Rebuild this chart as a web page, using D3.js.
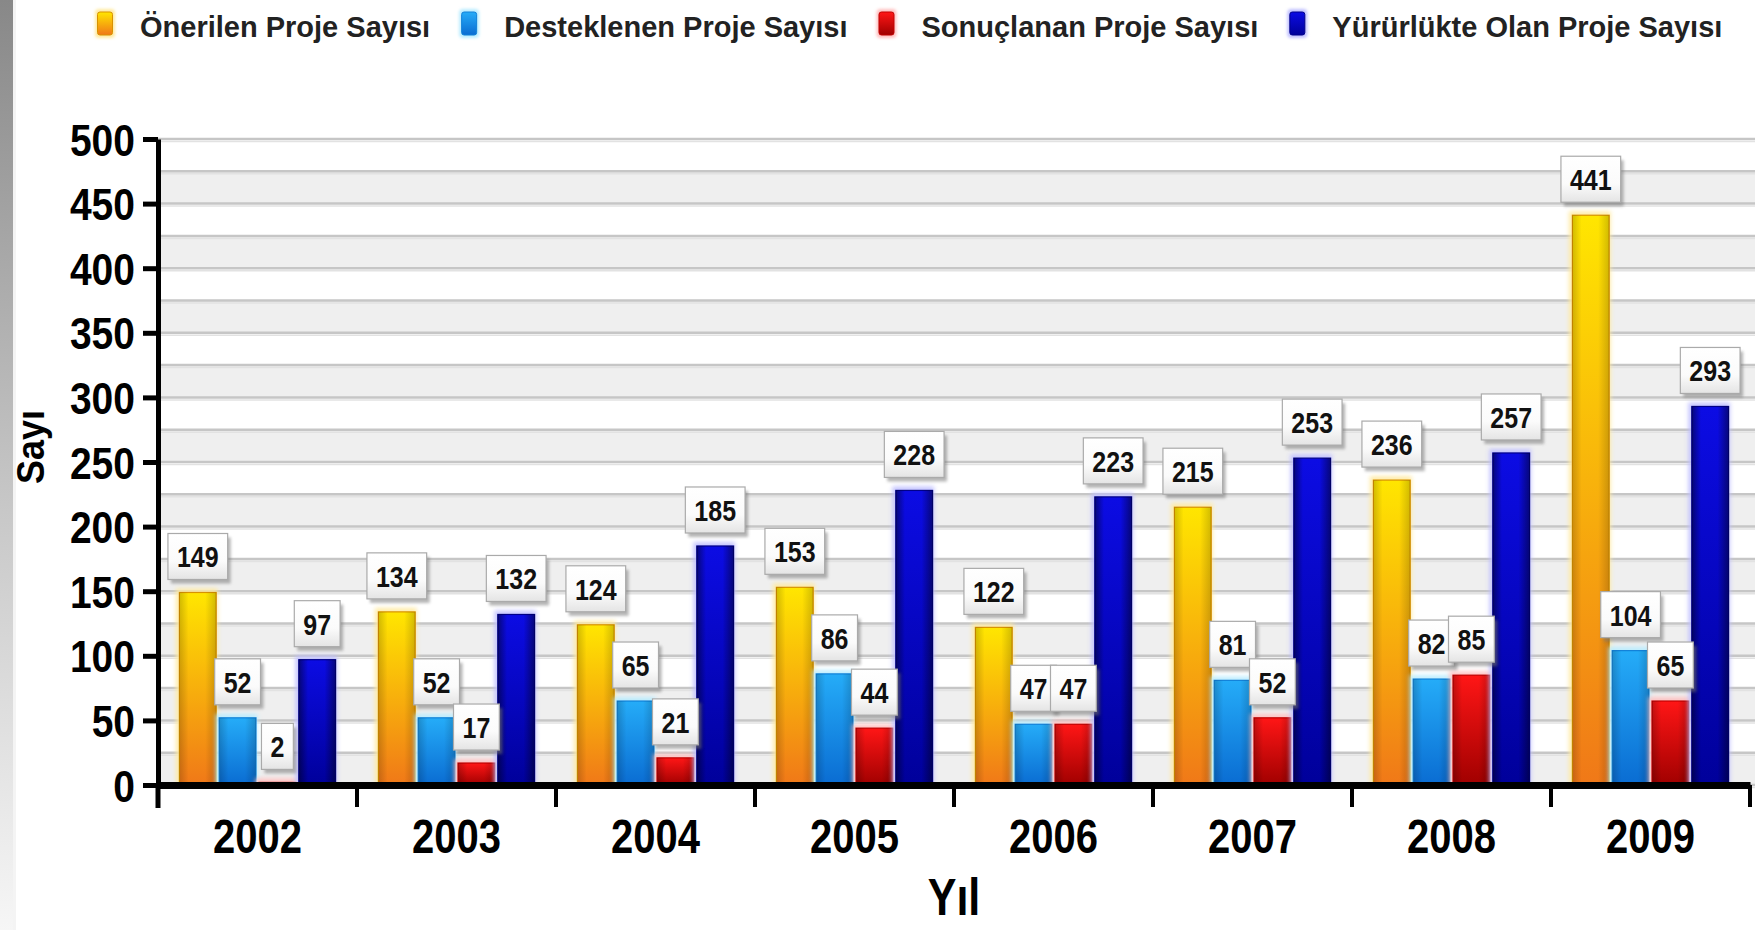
<!DOCTYPE html>
<html><head><meta charset="utf-8">
<script src="https://cdn.jsdelivr.net/npm/d3@7/dist/d3.min.js"></script>
<style>
html,body{margin:0;padding:0;background:#fff;}
svg{display:block;font-family:"Liberation Sans",Arial,sans-serif;}
</style></head>
<body>
<svg id="chart" width="1760" height="930"></svg>
<script>
// ---- data ----
const years = ["2002","2003","2004","2005","2006","2007","2008","2009"];
const onerilen    = [149,134,124,153,122,215,236,441];
const desteklenen = [52,52,65,86,47,81,82,104];
const sonuclanan  = [2,17,21,44,47,52,85,65];
const yururlukte  = [97,132,185,228,223,253,257,293];
const seriesNames = ["Önerilen Proje Sayısı","Desteklenen Proje Sayısı","Sonuçlanan Proje Sayısı","Yürürlükte Olan Proje Sayısı"];
const yTicks = [0,50,100,150,200,250,300,350,400,450,500];
const gridValues = d3.range(0, 501, 25);
const yTitle = "Sayı";
const xTitle = "Yıl";

(function(){
const seriesData = [onerilen, desteklenen, sonuclanan, yururlukte];
const seriesKeys = ["s0","s1","s2","s3"];
const styles = [
  {top:"#ffe600", bot:"#f07818", stroke:"#d89200", glow:"#ffeaa0", edge:0.18},
  {top:"#25acf8", bot:"#0a6cd2", stroke:"#1080d8", glow:"#b8ecff", edge:0.18},
  {top:"#ff1616", bot:"#a00000", stroke:"#c00000", glow:"#ffc0c0", edge:0.22},
  {top:"#0c0ce4", bot:"#00009a", stroke:"#00008a", glow:"#c0c0ff", edge:0.45}
];

const svg = d3.select("#chart");
const W = 1760, H = 930;
const pLeft = 158, pRight = 1750, pTop = 139, pBottom = 785;

const defs = svg.append("defs");
const sg = defs.append("linearGradient").attr("id","strip").attr("x1",0).attr("y1",0).attr("x2",0).attr("y2",1);
sg.append("stop").attr("offset","0%").attr("stop-color","#888");
sg.append("stop").attr("offset","55%").attr("stop-color","#c8c8c8");
sg.append("stop").attr("offset","100%").attr("stop-color","#f6f6f6");

styles.forEach((s,i)=>{
  const g = defs.append("linearGradient").attr("id","grad"+i).attr("x1",0).attr("y1",0).attr("x2",0).attr("y2",1);
  g.append("stop").attr("offset","0%").attr("stop-color",s.top);
  g.append("stop").attr("offset","100%").attr("stop-color",s.bot);
  const e = defs.append("linearGradient").attr("id","edge"+i).attr("x1",0).attr("y1",0).attr("x2",1).attr("y2",0);
  e.append("stop").attr("offset","0%").attr("stop-color","#000").attr("stop-opacity",s.edge);
  e.append("stop").attr("offset","25%").attr("stop-color","#000").attr("stop-opacity",0);
  e.append("stop").attr("offset","70%").attr("stop-color","#000").attr("stop-opacity",0);
  e.append("stop").attr("offset","100%").attr("stop-color","#000").attr("stop-opacity",s.edge);
});
const lg = defs.append("linearGradient").attr("id","lbl").attr("x1",0).attr("y1",0).attr("x2",0).attr("y2",1);
lg.append("stop").attr("offset","0%").attr("stop-color","#ffffff");
lg.append("stop").attr("offset","60%").attr("stop-color","#fbfbfb");
lg.append("stop").attr("offset","100%").attr("stop-color","#e4e4e4");
defs.append("filter").attr("id","blur").attr("x","-50%").attr("y","-50%").attr("width","200%").attr("height","200%")
  .append("feGaussianBlur").attr("stdDeviation",2.2);
defs.append("filter").attr("id","blur1").attr("x","-50%").attr("y","-50%").attr("width","200%").attr("height","200%")
  .append("feGaussianBlur").attr("stdDeviation",1.5);

svg.append("rect").attr("width",W).attr("height",H).attr("fill","#fff");
svg.append("rect").attr("x",0).attr("y",0).attr("width",13).attr("height",H).attr("fill","url(#strip)");
svg.append("rect").attr("x",13).attr("y",0).attr("width",3).attr("height",H).attr("fill","#f4f4f4");

const y = d3.scaleLinear().domain([0,500]).range([pBottom, pTop]);
const x0 = d3.scaleBand().domain(years).range([pLeft, pRight]).padding(0);
const x1 = d3.scaleBand().domain(seriesKeys).range([0, x0.bandwidth()]).paddingInner(0).paddingOuter(0.5);

const plot = svg.append("g");
plot.selectAll("rect.band").data(gridValues.filter(v => v < 500 && (v/25)%2===0)).join("rect")
  .attr("class","band").attr("x",pLeft).attr("width",1755-pLeft)
  .attr("y", d => y(d+25)).attr("height", d => y(d) - y(d+25))
  .attr("fill","#efefef");
plot.selectAll("line.grid").data(gridValues).join("line")
  .attr("class","grid").attr("x1",pLeft).attr("x2",1755)
  .attr("y1", d => y(d)).attr("y2", d => y(d))
  .attr("stroke","#c6c6c6").attr("stroke-width",2.5);
plot.selectAll("line.grid2").data(gridValues).join("line")
  .attr("class","grid2").attr("x1",pLeft).attr("x2",1755)
  .attr("y1", d => y(d)+2.5).attr("y2", d => y(d)+2.5)
  .attr("stroke","#e2e2e2").attr("stroke-width",1.5);

const groups = svg.append("g").selectAll("g.yr").data(years).join("g")
  .attr("class","yr").attr("transform", d => `translate(${x0(d)},0)`);
seriesKeys.forEach((k,si)=>{
  const s = styles[si];
  const bw = x1.bandwidth();
  const sel = groups.append("g").datum((d,i)=>({year:d, v:seriesData[si][i]}));
  sel.append("rect")
    .attr("x", x1(k)-2).attr("width", bw+2)
    .attr("y", d => y(d.v)-4).attr("height", d => y(0)-y(d.v)+4)
    .attr("fill", s.glow).attr("filter","url(#blur)").attr("opacity",0.9);
  sel.append("rect")
    .attr("x", x1(k)+1.5).attr("width", bw-3)
    .attr("y", d => y(d.v)).attr("height", d => y(0)-y(d.v))
    .attr("fill", `url(#grad${si})`).attr("stroke", s.stroke).attr("stroke-width",1.2);
  sel.append("rect")
    .attr("x", x1(k)+1.5).attr("width", bw-3)
    .attr("y", d => y(d.v)).attr("height", d => y(0)-y(d.v))
    .attr("fill", `url(#edge${si})`);
});

const yAxis = d3.axisLeft(y).tickValues(yTicks).tickSize(15).tickSizeOuter(0).tickPadding(0);
const yg = svg.append("g").attr("transform",`translate(${pLeft},0)`).call(yAxis);
yg.select(".domain").attr("stroke","#000").attr("stroke-width",5);
yg.selectAll(".tick line").attr("stroke","#000").attr("stroke-width",5);
yg.selectAll(".tick text")
  .attr("x",null).attr("dy",null).attr("y",0)
  .attr("transform","translate(-23,16) scale(1,1.15)")
  .attr("font-size",39).attr("font-weight","bold").attr("fill","#000")
  .attr("font-family","'Liberation Sans',Arial,sans-serif");
svg.append("line").attr("x1",pLeft).attr("x2",pLeft).attr("y1",y(0)).attr("y2",y(0)+23)
  .attr("stroke","#000").attr("stroke-width",5);

const xAxis = d3.axisBottom(x0).tickSize(0).tickSizeOuter(0);
const xg = svg.append("g").attr("transform",`translate(0,${y(0)})`).call(xAxis);
xg.select(".domain").attr("stroke","#000").attr("stroke-width",7);
xg.selectAll(".tick text")
  .attr("y",0).attr("dy",null)
  .attr("transform","translate(0,68) scale(1,1.2)")
  .attr("font-size",40).attr("font-weight","bold").attr("fill","#000")
  .attr("font-family","'Liberation Sans',Arial,sans-serif");
const bounds = years.slice(1).map(d => x0(d)).concat([x0.range()[1]]);
svg.append("g").selectAll("line").data(bounds).join("line")
  .attr("x1", d => d).attr("x2", d => d).attr("y1", y(0)).attr("y2", y(0)+22)
  .attr("stroke","#000").attr("stroke-width",4);

svg.append("text").attr("transform",`translate(${(pLeft+pRight)/2},915) scale(1,1.2)`)
  .attr("text-anchor","middle").attr("font-size",43).attr("font-weight","bold").attr("fill","#000").text(xTitle);
svg.append("text").attr("transform",`translate(44,${(pTop+pBottom)/2 - 15}) rotate(-90) scale(1,1.1)`)
  .attr("text-anchor","middle").attr("font-size",36).attr("font-weight","bold").attr("fill","#000").text(yTitle);

const lblLayer = svg.append("g");
seriesKeys.forEach((k,si)=>{
  years.forEach((yr,i)=>{
    const v = seriesData[si][i];
    const cx = x0(yr) + x1(k) + x1.bandwidth()/2;
    const bTop = y(v);
    const g = lblLayer.append("g");
    const t = g.append("text").text(v).attr("font-size",25).attr("font-weight","bold").attr("fill","#111")
      .attr("text-anchor","middle");
    const tw = t.node().getComputedTextLength();
    const bw = tw + 18, bh = 46;
    const by = bTop - 13 - bh;
    g.insert("rect","text").attr("x",cx-bw/2+3).attr("y",by+4).attr("width",bw).attr("height",bh)
      .attr("fill","#777").attr("opacity",0.55).attr("filter","url(#blur1)");
    g.insert("rect","text").attr("x",cx-bw/2).attr("y",by).attr("width",bw).attr("height",bh)
      .attr("fill","url(#lbl)").attr("stroke","#aaa").attr("stroke-width",1.2);
    t.attr("transform",`translate(${cx},${by+bh/2+11}) scale(1,1.2)`);
  });
});

const leg = svg.append("g");
let cx = 105;
seriesNames.forEach((name,i)=>{
  const s = styles[i];
  leg.append("rect").attr("x",cx-10).attr("y",9).attr("width",20).attr("height",29).attr("rx",4)
    .attr("fill",s.glow).attr("filter","url(#blur1)");
  leg.append("rect").attr("x",cx-7.5).attr("y",12).attr("width",15).attr("height",23).attr("rx",2.5)
    .attr("fill",`url(#grad${i})`).attr("stroke",s.stroke).attr("stroke-width",1);
  const t = leg.append("text").attr("x",cx+35).attr("y",37).attr("font-size",29).attr("font-weight","bold")
    .attr("fill","#222").text(name);
  cx = cx + 35 + t.node().getComputedTextLength() + 39;
});
})();
</script>
</body></html>
